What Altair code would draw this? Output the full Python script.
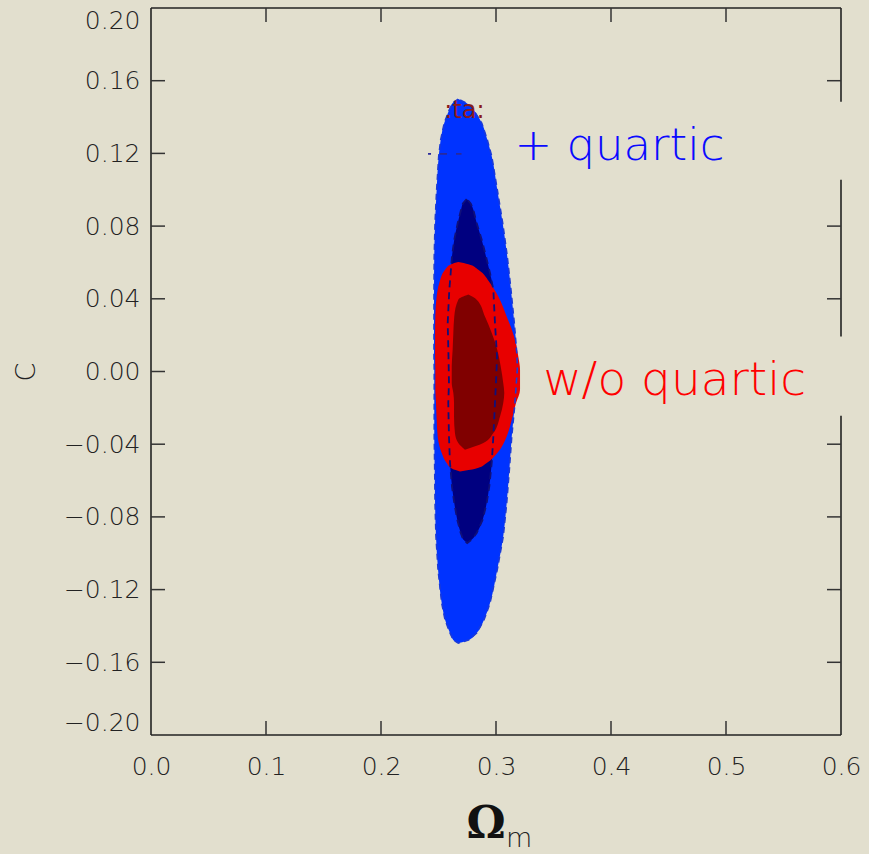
import altair as alt
import pandas as pd

# ---------------- data ----------------
# outer contour, fit with quartic term: C value, left Omega_m, right Omega_m
quart_out_c = [0.1499, 0.1478, 0.1440, 0.1367, 0.1275, 0.1184, 0.1000, 0.0817, 0.0633, 0.0450, 0.0267, 0.0083,
               0.0010, -0.0172, -0.0357, -0.0540, -0.0724, -0.0907, -0.1090, -0.1274, -0.1366, -0.1439, -0.1478, -0.1494]
quart_out_lo = [0.2672, 0.2625, 0.2594, 0.2550, 0.2519, 0.2502, 0.2484, 0.2470, 0.2463, 0.2461, 0.2461, 0.2461,
                0.2463, 0.2463, 0.2463, 0.2467, 0.2470, 0.2478, 0.2496, 0.2528, 0.2557, 0.2600, 0.2630, 0.2672]
quart_out_hi = [0.2672, 0.2740, 0.2803, 0.2876, 0.2924, 0.2963, 0.3011, 0.3058, 0.3098, 0.3130, 0.3159, 0.3183,
                0.3185, 0.3165, 0.3137, 0.3116, 0.3093, 0.3063, 0.3011, 0.2948, 0.2896, 0.2832, 0.2760, 0.2672]

# inner contour, fit with quartic term
quart_in_c = [0.0949, 0.0925, 0.0890, 0.0817, 0.0725, 0.0633, 0.0542, 0.0450, 0.0267, 0.0083, -0.0062, -0.0172,
              -0.0357, -0.0502, -0.0632, -0.0724, -0.0815, -0.0889, -0.0925, -0.0944]
quart_in_lo = [0.2745, 0.2712, 0.2696, 0.2667, 0.2637, 0.2617, 0.2606, 0.2594, 0.2580, 0.2587, 0.2591, 0.2585,
               0.2591, 0.2600, 0.2617, 0.2637, 0.2663, 0.2693, 0.2715, 0.2750]
quart_in_hi = [0.2745, 0.2780, 0.2803, 0.2832, 0.2876, 0.2913, 0.2948, 0.2977, 0.2991, 0.3009, 0.3000, 0.2991,
               0.2977, 0.2963, 0.2942, 0.2919, 0.2884, 0.2832, 0.2790, 0.2750]

# outer contour, fit without quartic term
noq_out_c = [0.0602, 0.0590, 0.0560, 0.0487, 0.0413, 0.0303, 0.0193, 0.0083, 0.0010, -0.0100, -0.0173, -0.0265,
             -0.0357, -0.0448, -0.0503, -0.0535, -0.0550]
noq_out_lo = [0.2672, 0.2610, 0.2557, 0.2507, 0.2484, 0.2472, 0.2470, 0.2470, 0.2472, 0.2472, 0.2478, 0.2484,
              0.2493, 0.2528, 0.2571, 0.2620, 0.2687]
noq_out_hi = [0.2672, 0.2760, 0.2846, 0.2948, 0.3020, 0.3093, 0.3157, 0.3194, 0.3209, 0.3209, 0.3174, 0.3137,
              0.3093, 0.3011, 0.2919, 0.2820, 0.2687]

# inner contour, fit without quartic term
noq_in_c = [0.0423, 0.0395, 0.0303, 0.0212, 0.0120, 0.0028, -0.0063, -0.0118, -0.0173, -0.0247, -0.0338,
            -0.0393, -0.0430]
noq_in_lo = [0.2759, 0.2672, 0.2637, 0.2629, 0.2623, 0.2615, 0.2615, 0.2629, 0.2635, 0.2635, 0.2643,
             0.2672, 0.2730]
noq_in_hi = [0.2759, 0.2832, 0.2904, 0.2963, 0.3011, 0.3041, 0.3063, 0.3072, 0.3063, 0.3035, 0.2977,
             0.2890, 0.2730]

# axes
x_label_values = [0.0, 0.1, 0.2, 0.3, 0.4, 0.5, 0.6]
y_label_values = [-0.20, -0.16, -0.12, -0.08, -0.04, 0.00, 0.04, 0.08, 0.12, 0.16, 0.20]
x_tick_values = [0.1, 0.2, 0.3, 0.4, 0.5]
y_tick_values = [-0.16, -0.12, -0.08, -0.04, 0.00, 0.04, 0.08, 0.12, 0.16]
y_tick_values_right = [-0.16, -0.12, -0.08, -0.04, 0.04, 0.08, 0.16]
right_frame_from = [0.1484, 0.0192, -0.20]
right_frame_to = [0.20, 0.1055, -0.0243]

# annotations
ann_text = ["+ quartic", "w/o quartic"]
ann_x = [0.316, 0.341]
ann_y = [0.1165, -0.0128]
ann_color = ["#0a0aff", "#ff0000"]
ann_size = [45, 47]

# leftover legend fragments
frag_text = [":ta:"]
frag_x = [0.2550]
frag_y = [0.1396]
frag_dash_x = [0.2409]
frag_dash_x2 = [0.2700]
frag_dash_y = [0.1197]

BG = "#e2dfce"
INK = "#222222"
W, H = 690, 727

xs = alt.Scale(domain=[0, 0.6], nice=False, zero=False)
ys = alt.Scale(domain=[-0.2, 0.2], nice=False, zero=False)

XAX = alt.Axis(values=x_label_values, format=".1f", ticks=False, domain=False, grid=False,
               labelFont="DejaVu Sans", labelFontSize=25, labelColor=INK, labelPadding=19,
               labelFlush=False, title=None, labelFontWeight=200)
YAX = alt.Axis(values=y_label_values, format=".2f", ticks=False, domain=False, grid=False,
               labelFont="DejaVu Sans", labelFontSize=25, labelColor=INK, labelPadding=11,
               labelFlush=True, title=None, labelFontWeight=200)


def X(f):
    return alt.X(f, scale=xs, axis=XAX)


def Y(f):
    return alt.Y(f, scale=ys, axis=YAX)


def band_df(c, lo, hi):
    return pd.DataFrame({"C": c, "lo": lo, "hi": hi})


def outline_df(c, lo, hi):
    cc = list(c) + list(reversed(c)) + [c[0]]
    xx = list(lo) + list(reversed(hi)) + [lo[0]]
    return pd.DataFrame({"C": cc, "om": xx, "k": list(range(len(cc)))})


def band(c, lo, hi, color):
    return alt.Chart(band_df(c, lo, hi)).mark_area(
        orient="horizontal", interpolate="monotone", color=color, opacity=1
    ).encode(x=X("lo:Q"), x2="hi:Q", y=Y("C:Q"))


def outline(c, lo, hi, color, dash, width):
    return alt.Chart(outline_df(c, lo, hi)).mark_line(
        interpolate="linear", color=color, strokeDash=dash, strokeWidth=width
    ).encode(x=X("om:Q"), y=Y("C:Q"), order="k:Q")


layers = [
    band(quart_out_c, quart_out_lo, quart_out_hi, "#0033ff"),
    band(quart_in_c, quart_in_lo, quart_in_hi, "#000080"),
    band(noq_out_c, noq_out_lo, noq_out_hi, "#e80000"),
    band(noq_in_c, noq_in_lo, noq_in_hi, "#800000"),
    outline(quart_out_c, quart_out_lo, quart_out_hi, "#1a3ad8", [6, 4], 1.6),
    outline(quart_in_c, quart_in_lo, quart_in_hi, "#10107a", [7, 5], 1.8),
]

# legend fragments
layers.append(
    alt.Chart(pd.DataFrame({"t": frag_text, "x": frag_x, "y": frag_y})).mark_text(
        font="DejaVu Sans", fontSize=24, fontWeight="normal", color="#8b1a1a", align="left", baseline="alphabetic"
    ).encode(x=X("x:Q"), y=Y("y:Q"), text="t:N")
)
layers.append(
    alt.Chart(pd.DataFrame({"x": frag_dash_x, "x2": frag_dash_x2, "y": frag_dash_y})).mark_rule(
        color="#2a2a9a", strokeWidth=1.8, strokeDash=[7, 9], strokeDashOffset=4
    ).encode(x=X("x:Q"), x2="x2:Q", y=Y("y:Q"))
)

# annotations
layers.append(
    alt.Chart(pd.DataFrame({"t": ann_text, "x": ann_x, "y": ann_y, "c": ann_color, "s": ann_size})).mark_text(
        font="DejaVu Sans", fontWeight=200, align="left", baseline="alphabetic"
    ).encode(x=X("x:Q"), y=Y("y:Q"), text="t:N", color=alt.Color("c:N", scale=None),
             size=alt.Size("s:Q", scale=None, legend=None))
)

# frame
frame_style = dict(color=INK, strokeWidth=1.6)
one = pd.DataFrame({"a": [0]})
layers.append(alt.Chart(one).mark_rule(**frame_style).encode(
    x=alt.value(0), y=alt.value(0), y2=alt.value(H)))
layers.append(alt.Chart(one).mark_rule(**frame_style).encode(
    x=alt.value(0), x2=alt.value(W), y=alt.value(H)))
layers.append(alt.Chart(one).mark_rule(**frame_style).encode(
    x=alt.value(0), x2=alt.value(W), y=alt.value(0)))
layers.append(
    alt.Chart(pd.DataFrame({"a": right_frame_from, "b": right_frame_to})).mark_rule(**frame_style).encode(
        x=alt.value(W), y=Y("a:Q"), y2="b:Q")
)

# inward ticks
tick_style = dict(color="#333333", strokeWidth=1.5)
layers.append(alt.Chart(pd.DataFrame({"v": x_tick_values})).mark_rule(**tick_style).encode(
    x=X("v:Q"), y=alt.value(H), y2=alt.value(H - 14)))
layers.append(alt.Chart(pd.DataFrame({"v": x_tick_values})).mark_rule(**tick_style).encode(
    x=X("v:Q"), y=alt.value(0), y2=alt.value(14)))
layers.append(alt.Chart(pd.DataFrame({"v": y_tick_values})).mark_rule(**tick_style).encode(
    y=Y("v:Q"), x=alt.value(0), x2=alt.value(14)))
layers.append(alt.Chart(pd.DataFrame({"v": y_tick_values_right})).mark_rule(**tick_style).encode(
    y=Y("v:Q"), x=alt.value(W), x2=alt.value(W - 14)))

# axis titles
layers.append(alt.Chart(one).mark_text(
    text="C", font="DejaVu Sans", fontSize=27, fontWeight=200, color=INK, angle=270,
    align="center", baseline="middle").encode(x=alt.value(-124), y=alt.value(364)))
layers.append(alt.Chart(one).mark_text(
    text="Ω", font="DejaVu Serif", fontSize=44, fontWeight="bold", color="#111111",
    align="center", baseline="alphabetic").encode(x=alt.value(335), y=alt.value(830)))
layers.append(alt.Chart(one).mark_text(
    text="m", font="DejaVu Sans", fontSize=27, fontWeight=200, color=INK,
    align="left", baseline="alphabetic").encode(x=alt.value(355), y=alt.value(839)))

chart = alt.layer(*layers).properties(
    width=W, height=H, background=BG,
    autosize=alt.AutoSizeParams(type="none"),
    padding={"left": 151, "top": 8, "right": 28, "bottom": 119},
).configure_view(stroke=None)

chart.save("out.html", embed_options={"renderer": "svg", "actions": False})
